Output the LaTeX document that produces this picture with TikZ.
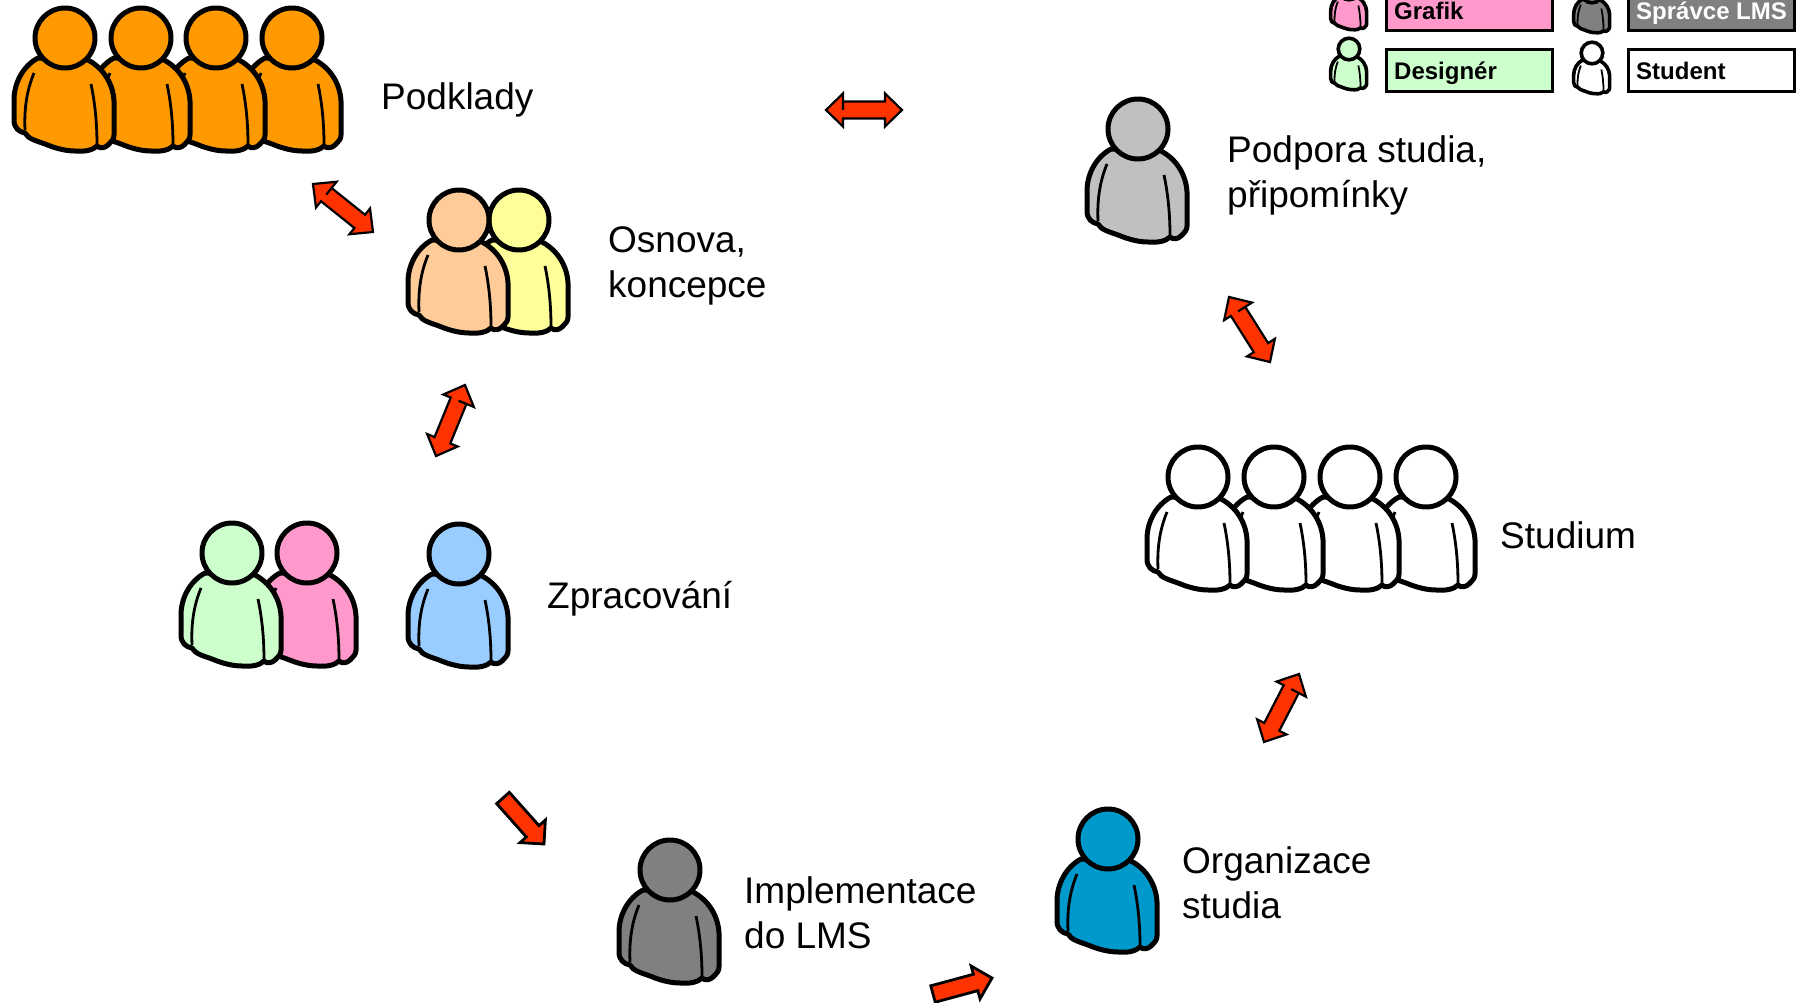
\documentclass[tikz,border=0pt]{standalone}
\usepackage{fontspec}
\setmainfont{Liberation Sans}
\usepackage{tikz}
\usetikzlibrary{calc}
\definecolor{podkladycol}{HTML}{FF9900}
\definecolor{peachcol}{HTML}{FFCC99}
\definecolor{yellowcol}{HTML}{FFFF99}
\definecolor{designcol}{HTML}{CCFFCC}
\definecolor{grafikcol}{HTML}{FF99CC}
\definecolor{bluecol}{HTML}{99CCFF}
\definecolor{lmscol}{HTML}{808080}
\definecolor{orgcol}{HTML}{0099CC}
\definecolor{silvercol}{HTML}{C0C0C0}
\definecolor{arrowcol}{HTML}{FF3300}
\tikzset{
personline/.style={line width=5pt,line join=round},
armline/.style={line width=2.8pt},
small/.style={scale=0.36,
  personline/.style={line width=3.6pt,line join=round},
  armline/.style={line width=1.8pt}},
pics/person/.style={code={
  \draw[personline,fill=#1] (-27,20) .. controls (-42,28) and (-51,45) .. (-51,62)
    -- (-51,82) .. controls (-51,90) and (-46,94) .. (-40,95)
    .. controls (-37,101) and (-28,103) .. (-20,106)
    .. controls (-8,111) and (2,113) .. (10,113)
    .. controls (20,114) and (28,112) .. (32,108)
    .. controls (35,111) and (40,110) .. (43,107)
    .. controls (47,103) and (49,101) .. (49,97)
    -- (49,63) .. controls (48,45) and (38,30) .. (23,22) -- cycle;
  \draw[armline] (-31,35) .. controls (-38,52) and (-41,70) .. (-40,92);
  \draw[armline] (26,46) .. controls (30,65) and (32,85) .. (32,107);
  \draw[personline,fill=#1] (0,0) circle (30);
}},
both/.style={line width=2.2pt,draw=black,fill=arrowcol,line join=miter,
  to path={
  ($(\tikztostart)!17pt!(\tikztotarget)$) -- 
  ($($(\tikztostart)!17pt!(\tikztotarget)$)!16.5pt!90:(\tikztotarget)$) --
  (\tikztostart) --
  ($($(\tikztostart)!17pt!(\tikztotarget)$)!16.5pt!-90:(\tikztotarget)$) --
  ($($(\tikztostart)!17pt!(\tikztotarget)$)!8.5pt!-90:(\tikztotarget)$) --
  ($($(\tikztotarget)!17pt!(\tikztostart)$)!8.5pt!90:(\tikztostart)$) --
  ($($(\tikztotarget)!17pt!(\tikztostart)$)!16.5pt!90:(\tikztostart)$) --
  (\tikztotarget) --
  ($($(\tikztotarget)!17pt!(\tikztostart)$)!16.5pt!-90:(\tikztostart)$) --
  ($($(\tikztotarget)!17pt!(\tikztostart)$)!8.5pt!-90:(\tikztostart)$) --
  ($($(\tikztostart)!17pt!(\tikztotarget)$)!8.5pt!90:(\tikztotarget)$) -- 
  ($($(\tikztostart)!17pt!(\tikztotarget)$)!16.5pt!90:(\tikztotarget)$)
  }},
single/.style={line width=2.8pt,draw=black,fill=arrowcol,line join=miter,
  to path={
  ($(\tikztostart)!8.5pt!90:(\tikztotarget)$) --
  ($($(\tikztotarget)!17pt!(\tikztostart)$)!8.5pt!-90:(\tikztostart)$) --
  ($($(\tikztotarget)!17pt!(\tikztostart)$)!17pt!-90:(\tikztostart)$) --
  (\tikztotarget) --
  ($($(\tikztotarget)!17pt!(\tikztostart)$)!17pt!90:(\tikztostart)$) --
  ($($(\tikztotarget)!17pt!(\tikztostart)$)!8.5pt!90:(\tikztostart)$) --
  ($(\tikztostart)!8.5pt!-90:(\tikztotarget)$) -- cycle
  }},
label/.style={inner sep=0pt,anchor=base west,align=left,font=\fontsize{37}{45}\selectfont},
legend/.style={draw=black,line width=3pt,anchor=north west,minimum width=166pt,minimum height=42pt,
  inner sep=0pt,outer sep=0pt},
legendtext/.style={inner sep=0pt,anchor=base west,font=\fontsize{24}{28}\selectfont\bfseries},
}
\begin{document}
\begin{tikzpicture}[x=1pt,y=-1pt]
\useasboundingbox (0,0) rectangle (1805,1003);
\clip (0,0) rectangle (1805,1003);
\pic (pod4) at (292,38) {person=podkladycol};
\pic (pod3) at (216,38) {person=podkladycol};
\pic (pod2) at (141,38) {person=podkladycol};
\pic (pod1) at (65,38) {person=podkladycol};
\node[label] (podklady) at (381,110) {Podklady};
\pic (osn2) at (519,220) {person=yellowcol};
\pic (osn1) at (459,220) {person=peachcol};
\node[label] (osnova) at (608,298) {Osnova,\\koncepce};
\pic (zpr2) at (307,553) {person=grafikcol};
\pic (zpr1) at (232,553) {person=designcol};
\pic (zpr3) at (459,554) {person=bluecol};
\node[label] (zpracovani) at (547,608) {Zpracování};
\pic (impl) at (670,870) {person=lmscol};
\node[label] (implementace) at (744,948) {Implementace\\do LMS};
\pic (org) at (1108,839) {person=orgcol};
\node[label] (organizace) at (1182,918) {Organizace\\studia};
\pic (stu4) at (1426,477) {person=white};
\pic (stu3) at (1350,477) {person=white};
\pic (stu2) at (1274,477) {person=white};
\pic (stu1) at (1198,477) {person=white};
\node[label] (studium) at (1500,548) {Studium};
\pic (pdp) at (1138,129) {person=silvercol};
\node[label] (podpora) at (1227,208) {Podpora studia,\\připomínky};
\pic[small] (leggrafik) at (1349,-11) {person=grafikcol};
\pic[small] (legdesign) at (1349,49) {person=designcol};
\pic[small] (leglms) at (1592,-8) {person=lmscol};
\pic[small] (legstudent) at (1592,53) {person=white};
\node[legend,fill=grafikcol] (boxgrafik) at (1386,-11) {};
\node[legend,fill=designcol] (boxdesign) at (1386,50) {};
\node[legend,fill=lmscol] (boxlms) at (1628,-11) {};
\node[legend,fill=white] (boxstudent) at (1628,50) {};
\node[legendtext] (txtgrafik) at (1394,20) {Grafik};
\node[legendtext] (txtdesign) at (1394,80) {Designér};
\node[legendtext,text=white] (txtlms) at (1636,20) {Správce LMS};
\node[legendtext] (txtstudent) at (1636,80) {Student};
\coordinate (a1) at (313,184);
\coordinate (a2) at (373,232);
\coordinate (b1) at (465,385);
\coordinate (b2) at (436,456);
\coordinate (c1) at (826,110);
\coordinate (c2) at (902,110);
\coordinate (d1) at (1229,297);
\coordinate (d2) at (1270,362);
\coordinate (e1) at (1299,674);
\coordinate (e2) at (1264,742);
\coordinate (f1) at (503,798);
\coordinate (f2) at (544,844);
\coordinate (g1) at (933,994);
\coordinate (g2) at (992,978);
\draw[both] (a1) to (a2);
\draw[both] (b1) to (b2);
\draw[both] (c1) to (c2);
\draw[both] (d1) to (d2);
\draw[both] (e1) to (e2);
\draw[single] (f1) to (f2);
\draw[single] (g1) to (g2);
\end{tikzpicture}
\end{document}
